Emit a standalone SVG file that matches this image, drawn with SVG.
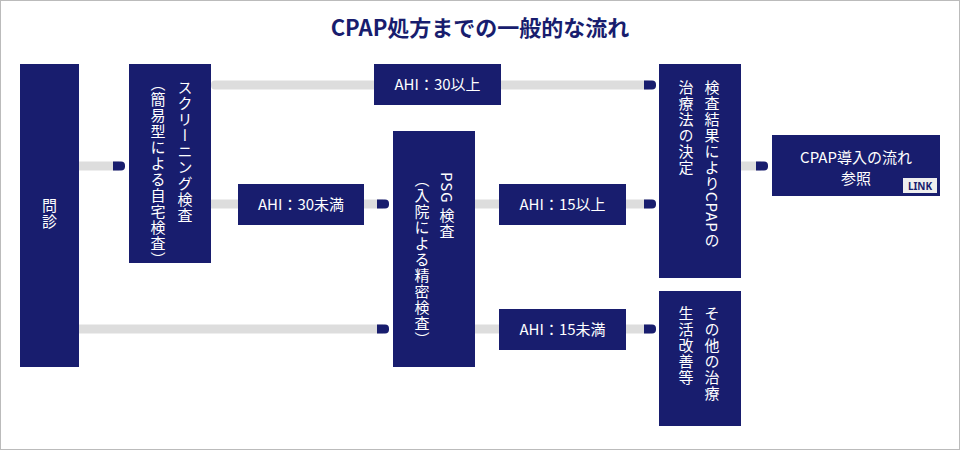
<svg xmlns="http://www.w3.org/2000/svg" width="960" height="450" viewBox="0 0 960 450">
<style>
.n{fill:#181d6e}
.t{fill:#fff;font-family:"Noto Sans CJK JP","Noto Sans",sans-serif;font-size:15px}
.v{writing-mode:vertical-rl;letter-spacing:1px}
.l{fill:#ddd}
.c{fill:#181d6e}
</style>
<defs><path id="cap" d="M0 -4.5H8a4 4 0 0 1 4 4v1a4 4 0 0 1 -4 4H0z"/></defs>
<rect x="0.5" y="0.5" width="959" height="449" fill="#fff" stroke="#bbb"/>
<text x="480" y="36" text-anchor="middle" font-family="'Noto Sans CJK JP',sans-serif" font-size="22" font-weight="bold" fill="#181d6e">CPAP処方までの一般的な流れ</text>
<g id="connectors">
<rect class="l" x="79" y="161.5" width="40" height="9"/><use href="#cap" class="c" x="113" y="166"/>
<rect class="l" x="211" y="80.5" width="440" height="9" rx="4"/><use href="#cap" class="c" x="644" y="85"/>
<rect class="l" x="211" y="199.5" width="172" height="9"/><use href="#cap" class="c" x="377" y="204"/>
<rect class="l" x="79" y="324.5" width="304" height="9"/><use href="#cap" class="c" x="377" y="329"/>
<rect class="l" x="475" y="199.5" width="175" height="9"/><use href="#cap" class="c" x="644" y="204"/>
<rect class="l" x="475" y="324.5" width="175" height="9"/><use href="#cap" class="c" x="644" y="329"/>
<rect class="l" x="741" y="161.5" width="20" height="9"/><use href="#cap" class="c" x="756" y="166"/>
</g>
<g id="monshin"><rect class="n" x="20" y="64" width="59" height="303"/><text class="t v" x="49.5" y="198">問診</text></g>
<g id="screening"><rect class="n" x="129" y="64" width="82" height="199"/>
<text class="t v" x="185" y="80">スクリーニング検査</text><text class="t v" x="158" y="76">（簡易型による自宅検査）</text></g>
<g id="ahi30up"><rect class="n" x="374" y="64" width="127" height="41"/><text class="t" x="437.5" y="90" text-anchor="middle">AHI：30以上</text></g>
<g id="ahi30down"><rect class="n" x="238" y="184" width="126" height="41"/><text class="t" x="301" y="210" text-anchor="middle">AHI：30未満</text></g>
<g id="psg"><rect class="n" x="393" y="131" width="82" height="236"/>
<text class="t v" x="447" y="172" letter-spacing="4">PSG 検査</text><text class="t v" x="422" y="172">（入院による精密検査）</text></g>
<g id="ahi15up"><rect class="n" x="499" y="184" width="127" height="41"/><text class="t" x="562.5" y="210" text-anchor="middle">AHI：15以上</text></g>
<g id="ahi15down"><rect class="n" x="499" y="309" width="127" height="41"/><text class="t" x="562.5" y="335" text-anchor="middle">AHI：15未満</text></g>
<g id="kekka"><rect class="n" x="659" y="64" width="82" height="214"/>
<text class="t v" x="712" y="80" letter-spacing="2">検査結果によりCPAPの</text><text class="t v" x="686" y="80" letter-spacing="2">治療法の決定</text></g>
<g id="other"><rect class="n" x="659" y="291" width="82" height="135"/>
<text class="t v" x="712" y="306" letter-spacing="2">その他の治療</text><text class="t v" x="686" y="306" letter-spacing="2">生活改善等</text></g>
<g id="cpaplink"><rect class="n" x="772" y="135" width="168" height="61"/>
<text class="t" x="856" y="163" text-anchor="middle" font-size="14">CPAP導入の流れ</text>
<text class="t" x="856" y="184" text-anchor="middle" font-size="14">参照</text>
<rect x="903" y="178" width="34" height="15" fill="#eee"/>
<text x="920" y="190" text-anchor="middle" font-family="'Noto Sans',sans-serif" font-size="10" font-weight="bold" fill="#181d6e">LINK</text></g>
</svg>
